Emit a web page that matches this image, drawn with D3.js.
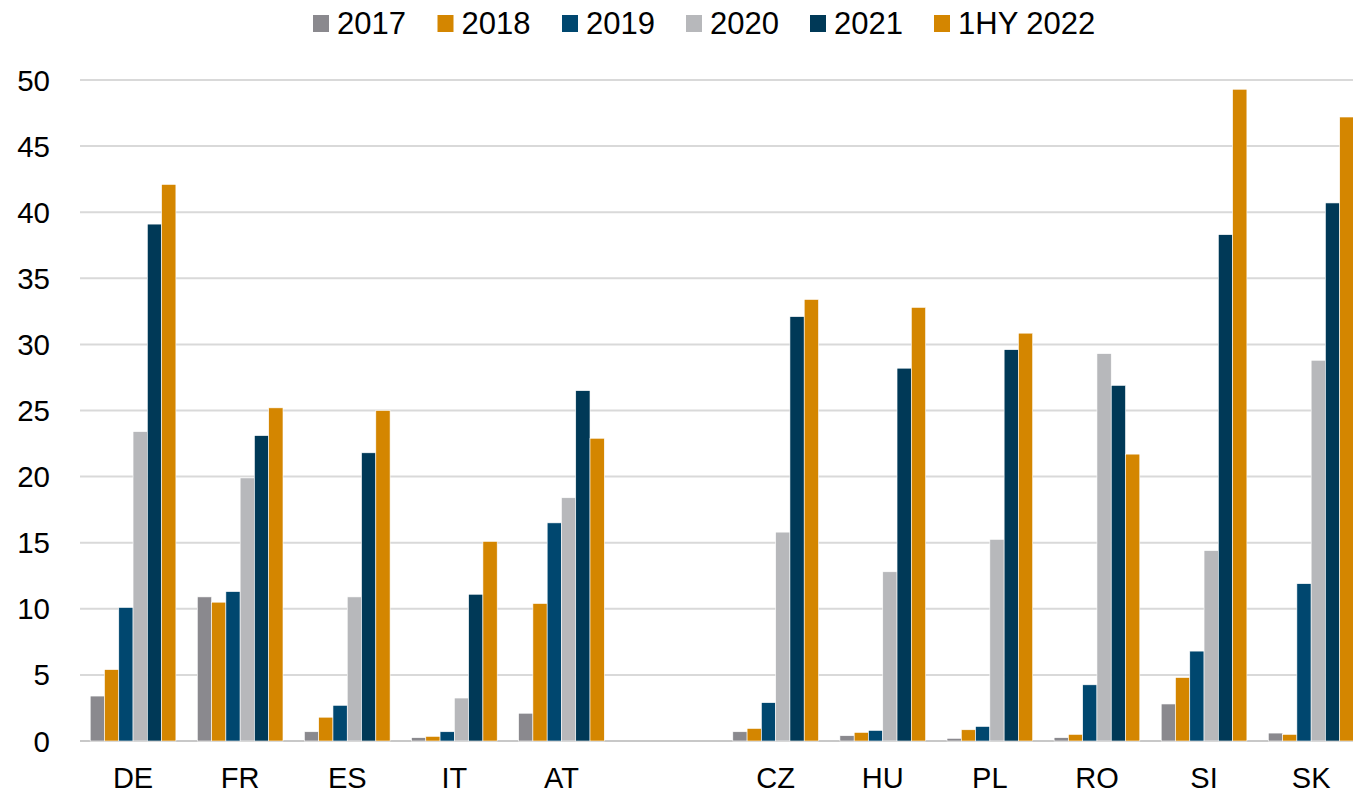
<!DOCTYPE html>
<html>
<head>
<meta charset="utf-8">
<script src="https://cdn.jsdelivr.net/npm/d3@7"></script>
<style>
  body { margin: 0; background: #fff; }
  svg { display: block; font-family: "Liberation Sans", Arial, sans-serif; }
</style>
</head>
<body>
<svg id="chart" width="1353" height="792"></svg>
<script>
// countries, with an empty slot between the two groups
const categories = ["DE", "FR", "ES", "IT", "AT", "", "CZ", "HU", "PL", "RO", "SI", "SK"];
const seriesNames = ["2017", "2018", "2019", "2020", "2021", "1HY 2022"];
const colors = ["#8a898e", "#d48600", "#00476f", "#b7b8bb", "#003957", "#d48600"];

const v2017 = [3.4, 10.9, 0.7, 0.25, 2.1, null, 0.7, 0.4, 0.2, 0.25, 2.8, 0.6];
const v2018 = [5.4, 10.5, 1.8, 0.35, 10.4, null, 0.95, 0.65, 0.85, 0.5, 4.8, 0.5];
const v2019 = [10.1, 11.3, 2.7, 0.7, 16.5, null, 2.9, 0.8, 1.1, 4.25, 6.8, 11.9];
const v2020 = [23.4, 19.9, 10.9, 3.25, 18.4, null, 15.8, 12.8, 15.25, 29.3, 14.4, 28.8];
const v2021 = [39.1, 23.1, 21.8, 11.1, 26.5, null, 32.1, 28.2, 29.6, 26.9, 38.3, 40.7];
const v1hy22 = [42.1, 25.2, 25.0, 15.1, 22.9, null, 33.4, 32.8, 30.85, 21.7, 49.3, 47.2];
const seriesValues = [v2017, v2018, v2019, v2020, v2021, v1hy22];

const yTicks = [0, 5, 10, 15, 20, 25, 30, 35, 40, 45, 50];

const svg = d3.select("#chart");

const x0 = d3.scaleBand()
  .domain(categories.map((c, i) => i))
  .range([79.5, 1364.7])
  .paddingInner(0.2)
  .paddingOuter(0.1);

const x1 = d3.scaleBand()
  .domain(seriesNames)
  .range([0, x0.bandwidth()]);

const y = d3.scaleLinear().domain([0, 50]).range([741, 80]);

// gridlines
svg.append("g")
  .selectAll("line")
  .data(yTicks)
  .join("line")
  .attr("x1", 80)
  .attr("x2", 1353)
  .attr("y1", d => y(d))
  .attr("y2", d => y(d))
  .attr("stroke", d => d === 0 ? "#c8c8c8" : "#d9d9d9")
  .attr("stroke-width", 2);

// y tick labels
svg.append("g")
  .selectAll("text")
  .data(yTicks)
  .join("text")
  .attr("x", 50)
  .attr("y", d => y(d) + 10.5)
  .attr("text-anchor", "end")
  .attr("font-size", 29.5)
  .attr("fill", "#000")
  .text(d => d);

// bars
const groups = svg.append("g")
  .selectAll("g")
  .data(categories.map((c, i) => i))
  .join("g")
  .attr("transform", i => `translate(${x0(i)},0)`);

groups.selectAll("rect")
  .data(i => seriesNames.map((s, k) => ({ s, k, v: seriesValues[k][i] })).filter(d => d.v != null))
  .join("rect")
  .attr("x", d => x1(d.s))
  .attr("width", x1.bandwidth())
  .attr("y", d => y(d.v))
  .attr("height", d => y(0) - y(d.v))
  .attr("fill", d => colors[d.k])
  .attr("stroke", "#fff")
  .attr("stroke-width", 0.6);

// x labels
svg.append("g")
  .selectAll("text")
  .data(categories.map((c, i) => i))
  .join("text")
  .attr("x", i => x0(i) + x0.bandwidth() / 2)
  .attr("y", 787.5)
  .attr("text-anchor", "middle")
  .attr("font-size", 29)
  .attr("fill", "#000")
  .text(i => categories[i]);

// legend
const legendX = [313, 437.5, 562, 686, 810, 934];
const legend = svg.append("g")
  .selectAll("g")
  .data(seriesNames)
  .join("g")
  .attr("transform", (d, i) => `translate(${legendX[i]},0)`);

legend.append("rect")
  .attr("x", 0)
  .attr("y", 15)
  .attr("width", 16)
  .attr("height", 17)
  .attr("fill", (d, i) => colors[i]);

legend.append("text")
  .attr("x", 24)
  .attr("y", 33.5)
  .attr("font-size", 31)
  .attr("fill", "#000")
  .text(d => d);
</script>
</body>
</html>
